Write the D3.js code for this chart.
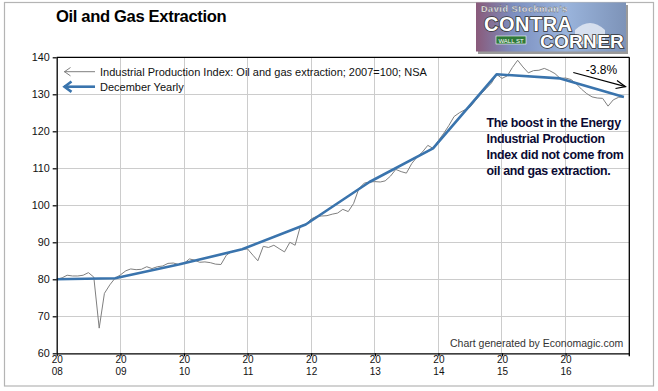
<!DOCTYPE html>
<html><head><meta charset="utf-8">
<script src="https://cdn.jsdelivr.net/npm/d3@7"></script>
<style>
html,body{margin:0;padding:0;background:#fff;}
svg{display:block;font-family:Arial,"Liberation Sans",sans-serif;}
</style></head>
<body><svg id="chart" width="658" height="391"></svg>
<script>
// ---- data ----
const startYear = 2008;
const oil2008 = [80.0, 80.4, 81.1, 80.9, 80.9, 81.1, 81.8, 80.6, 66.8, 76.2, 78.5, 80.3];
const oil2009 = [81.2, 82.3, 82.8, 82.6, 82.7, 83.4, 82.9, 83.4, 83.6, 84.3, 84.4, 84.0];
const oil2010 = [84.3, 85.5, 85.2, 84.6, 84.7, 84.5, 84.1, 84.0, 86.5, 87.5, 87.8, 88.1];
const oil2011 = [88.2, 86.5, 85.0, 88.9, 88.6, 89.2, 88.3, 87.4, 90.0, 89.2, 94.5, 94.8];
const oil2012 = [96.3, 97.0, 97.1, 97.2, 97.6, 97.9, 98.9, 98.3, 100.5, 104.5, 106.0, 106.3];
const oil2013 = [106.4, 106.3, 106.6, 107.9, 109.7, 109.1, 108.7, 111.3, 113.1, 114.4, 116.2, 115.4];
const oil2014 = [117.5, 119.5, 121.5, 124.0, 125.0, 125.8, 126.5, 128.3, 130.0, 131.5, 133.0, 135.4];
const oil2015 = [134.3, 135.0, 137.2, 139.2, 137.4, 135.8, 136.4, 136.5, 137.0, 136.4, 135.6, 134.3];
const oil2016 = [134.4, 134.0, 132.9, 131.4, 130.2, 129.3, 129.0, 128.9, 126.8, 128.5, 129.2, 129.3];
const decYears  = [2007, 2008, 2009, 2010, 2011, 2012, 2013, 2014, 2015, 2016];
const decValues = [80.0, 80.3, 84.0, 88.1, 94.8, 106.3, 115.4, 135.4, 134.3, 129.3];
const yTicks = [60, 70, 80, 90, 100, 110, 120, 130, 140];
const xTickYears = [2008, 2009, 2010, 2011, 2012, 2013, 2014, 2015, 2016];
const titleText = "Oil and Gas Extraction";
const legendLabels = ["Industrial Production Index: Oil and gas extraction; 2007=100; NSA", "December Yearly"];
const noteLines = ["The boost in the Energy", "Industrial Production", "Index did not come from", "oil and gas extraction."];
const changeLabel = "-3.8%";
const creditText = "Chart generated by Economagic.com";

const monthly = [oil2008, oil2009, oil2010, oil2011, oil2012, oil2013, oil2014, oil2015, oil2016]
  .flatMap((arr, yi) => arr.map((v, mi) => ({date: new Date(startYear + yi, mi, 1), value: v})));
const yearly = decYears.map((y, i) => ({date: new Date(y, 11, 1), value: decValues[i]}));

// ---- layout ----
const svg = d3.select("#chart");
const L = 56.7, R = 629.3, T = 57.3, B = 353.3;
const x = d3.scaleTime().domain([new Date(2008,0,1), new Date(2017,0,1)]).range([L, R]);
const y = d3.scaleLinear().domain([60, 140]).range([B, T]);
const FONT = "Arial, 'Liberation Sans', sans-serif";

// outer frame
svg.append("rect").attr("x", 4.5).attr("y", 2.5).attr("width", 649).attr("height", 383.5)
  .attr("fill", "none").attr("stroke", "#b4b4b4").attr("stroke-width", 1.2);

// title
svg.append("text").attr("x", 56).attr("y", 21.8).attr("font-size", 16.6).attr("font-weight", "bold")
  .attr("letter-spacing", -0.35).attr("fill", "#000").text(titleText);

// logo (approximation)
const defs = svg.append("defs");
const logo = svg.append("g");
const lg = defs.append("linearGradient").attr("id", "lg").attr("x1", 0).attr("x2", 1).attr("y1", 0).attr("y2", 0);
lg.append("stop").attr("offset", "0").attr("stop-color", "#8a5a7a");
lg.append("stop").attr("offset", "0.25").attr("stop-color", "#7c8fc0");
lg.append("stop").attr("offset", "0.6").attr("stop-color", "#9ab4dc");
lg.append("stop").attr("offset", "1").attr("stop-color", "#7d93b8");
logo.append("rect").attr("x", 478).attr("y", 5).attr("width", 150).attr("height", 49).attr("fill", "#9a9a9a");
logo.append("rect").attr("x", 476).attr("y", 2.5).attr("width", 150).attr("height", 49).attr("fill", "url(#lg)");
logo.append("path").attr("d", "M575,44 L575,30 Q590,16 605,30 L605,44 Z").attr("fill", "#e8eef6").attr("opacity", 0.8);
logo.append("text").attr("x", 481).attr("y", 11.5).attr("font-size", 9).attr("font-weight", "bold").attr("fill", "#fff")
  .attr("stroke", "#555").attr("stroke-width", 0.3).attr("letter-spacing", 0.6).text("David Stockman's");
logo.append("text").attr("x", 484).attr("y", 31).attr("font-size", 20).attr("font-weight", "bold").attr("fill", "#fff")
  .attr("stroke", "#333").attr("stroke-width", 1.6).attr("paint-order", "stroke").attr("letter-spacing", 0.5).text("CONTRA");
logo.append("rect").attr("x", 496).attr("y", 36).attr("width", 30).attr("height", 8).attr("fill", "#2f7a3a").attr("stroke", "#fff").attr("stroke-width", 0.6);
logo.append("text").attr("x", 511).attr("y", 42.5).attr("text-anchor", "middle").attr("font-size", 6).attr("fill", "#fff").text("WALL ST");
logo.append("text").attr("x", 540).attr("y", 47.5).attr("font-size", 19).attr("font-weight", "bold").attr("fill", "#fff")
  .attr("stroke", "#333").attr("stroke-width", 1.6).attr("paint-order", "stroke").attr("letter-spacing", 0.3).text("CORNER");

// grid
const grid = svg.append("g").attr("stroke", "#cccccc").attr("stroke-width", 1).attr("shape-rendering", "crispEdges");
grid.selectAll(".vx").data(xTickYears.slice(1)).join("line")
  .attr("x1", d => x(new Date(d,0,1))).attr("x2", d => x(new Date(d,0,1))).attr("y1", T).attr("y2", B);
grid.selectAll(".hy").data(yTicks.slice(1, -1)).join("line")
  .attr("x1", L).attr("x2", R).attr("y1", d => y(d)).attr("y2", d => y(d));

// clip
defs.append("clipPath").attr("id", "clip").append("rect").attr("x", L).attr("y", T).attr("width", R - L).attr("height", B - T);

// lines
const line = d3.line().x(d => x(d.date)).y(d => y(d.value));
svg.append("path").datum(monthly).attr("d", line).attr("fill", "none")
  .attr("stroke", "#7f7f7f").attr("stroke-width", 1).attr("clip-path", "url(#clip)");
svg.append("path").datum(yearly).attr("d", line).attr("fill", "none")
  .attr("stroke", "#3a74ad").attr("stroke-width", 2.6).attr("stroke-linejoin", "round").attr("clip-path", "url(#clip)");

// frame (top and right)
svg.append("line").attr("x1", L).attr("x2", R).attr("y1", T).attr("y2", T).attr("stroke", "#000").attr("stroke-width", 1.3);
svg.append("line").attr("x1", R).attr("x2", R).attr("y1", T).attr("y2", B + 3).attr("stroke", "#000").attr("stroke-width", 1.3);

// y axis
const yAxis = svg.append("g").attr("transform", `translate(${L},0)`)
  .call(d3.axisLeft(y).tickValues(yTicks).tickSize(4).tickPadding(3).tickSizeOuter(0));
yAxis.select(".domain").attr("stroke", "#000").attr("stroke-width", 1.3);
yAxis.selectAll(".tick line").attr("stroke", "#000").attr("stroke-width", 1.2);
yAxis.selectAll(".tick text").attr("font-size", 10.8).attr("fill", "#111").attr("font-family", FONT);

// x axis
const xAxis = svg.append("g").attr("transform", `translate(0,${B})`)
  .call(d3.axisBottom(x).tickValues(xTickYears.map(d => new Date(d,0,1))).tickSize(3).tickSizeOuter(0).tickFormat(""));
xAxis.select(".domain").attr("stroke", "#000").attr("stroke-width", 1.3);
xAxis.selectAll(".tick line").attr("stroke", "#000").attr("stroke-width", 1.2);
xAxis.selectAll(".tick").each(function(d) {
  const s = String(d.getFullYear());
  const g = d3.select(this);
  g.append("text").attr("fill", "#111").attr("font-size", 10).attr("text-anchor", "middle")
    .attr("font-family", FONT).attr("x", 0).attr("y", 9.8).text(s.slice(0, 2));
  g.append("text").attr("fill", "#111").attr("font-size", 10).attr("text-anchor", "middle")
    .attr("font-family", FONT).attr("x", 0).attr("y", 21.4).text(s.slice(2));
});

// legend
const lgG = svg.append("g");
lgG.append("line").attr("x1", 64).attr("x2", 95).attr("y1", 71.7).attr("y2", 71.7).attr("stroke", "#7f7f7f").attr("stroke-width", 1);
lgG.append("polyline").attr("points", "70.5,67.5 64.5,71.7 70.5,75.9").attr("fill", "none").attr("stroke", "#7f7f7f").attr("stroke-width", 1);
lgG.append("line").attr("x1", 64).attr("x2", 95).attr("y1", 86.7).attr("y2", 86.7).attr("stroke", "#3a74ad").attr("stroke-width", 2.6);
lgG.append("polyline").attr("points", "71.5,81.5 64.5,86.7 71.5,91.9").attr("fill", "none").attr("stroke", "#3a74ad").attr("stroke-width", 2.6);
lgG.selectAll("text").data(legendLabels).join("text")
  .attr("x", 100).attr("y", (d, i) => 75.8 + i * 15).attr("font-size", 11).attr("fill", "#111").text(d => d);

// annotation
svg.append("g").selectAll("text").data(noteLines).join("text")
  .attr("x", 486.5).attr("y", (d, i) => 127.3 + i * 15.9).attr("font-size", 12.4).attr("font-weight", "bold")
  .attr("letter-spacing", -0.3).attr("fill", "#0a0a33").text(d => d);

svg.append("text").attr("x", 601.5).attr("y", 74.3).attr("text-anchor", "middle").attr("font-size", 12)
  .attr("fill", "#000").text(changeLabel);
svg.append("line").attr("x1", 573.3).attr("y1", 72.5).attr("x2", 625.5).attr("y2", 86.7).attr("stroke", "#000").attr("stroke-width", 1.2);
svg.append("polyline").attr("points", "617,80.5 625.5,86.7 615.5,88.5").attr("fill", "none").attr("stroke", "#000").attr("stroke-width", 1.2);

// credit
svg.append("text").attr("x", 623.3).attr("y", 347.3).attr("text-anchor", "end").attr("font-size", 10.5)
  .attr("fill", "#333").text(creditText);
</script></body></html>
